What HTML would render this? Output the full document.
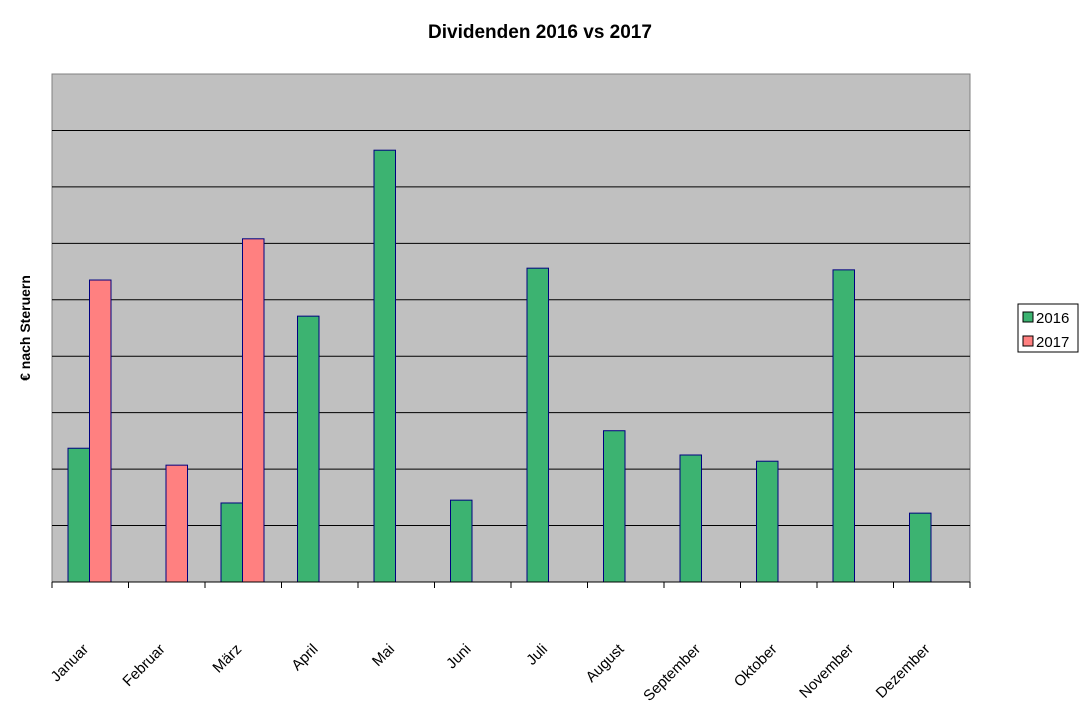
<!DOCTYPE html>
<html><head><meta charset="utf-8"><style>
html,body{margin:0;padding:0;background:#fff;}
svg{display:block;font-family:"Liberation Sans",Arial,sans-serif;}
</style></head><body>
<svg id="chart" width="1083" height="722">
<text x="540" y="38" text-anchor="middle" font-size="19" font-weight="bold">Dividenden 2016 vs 2017</text>
<rect x="52" y="74" width="918" height="508" fill="#c0c0c0" stroke="#808080"/>
<g id="grid"></g>
<g id="bars"></g>
<g id="xaxis"></g>
<text transform="translate(30,328) rotate(-90)" text-anchor="middle" font-size="14" font-weight="bold">€ nach Steruern</text>
<g>
<rect x="1018" y="304" width="60" height="48" fill="#fff" stroke="#000"/>
<rect x="1023" y="312" width="10" height="10" fill="#3cb371" stroke="#000"/>
<text x="1036" y="323" font-size="15">2016</text>
<rect x="1023" y="336" width="10" height="10" fill="#ff8080" stroke="#000"/>
<text x="1036" y="347" font-size="15">2017</text>
</g>
</svg>
<script>
const categories=["Januar","Februar","März","April","Mai","Juni","Juli","August","September","Oktober","November","Dezember"];
const values2016=[2.37,null,1.40,4.71,7.65,1.45,5.56,2.68,2.25,2.14,5.53,1.22];
const values2017=[5.35,2.07,6.08,null,null,null,null,null,null,null,null,null];
const yMax=9;
const ns="http://www.w3.org/2000/svg";
const L=52,R=970,T=74,B=582;
const cw=(R-L)/categories.length;
const y=v=>B-(v/yMax)*(B-T);
const x=i=>L+i*cw;
function mk(tag,attrs,parent){const e=document.createElementNS(ns,tag);for(const k in attrs)e.setAttribute(k,attrs[k]);parent.appendChild(e);return e;}
const grid=document.getElementById('grid'),bars=document.getElementById('bars'),xa=document.getElementById('xaxis');
for(let g=1;g<yMax;g++){
  const l=mk('line',{x1:L,x2:R,y1:y(g),y2:y(g),stroke:'#000','stroke-width':1},grid);
  
  
}
const bw=21.5,off=16;
categories.forEach((c,i)=>{
  if(values2016[i]!=null){
    const r=mk('rect',{x:x(i)+off,y:y(values2016[i]),width:bw,height:B-y(values2016[i]),fill:'#3cb371',stroke:'#000080','stroke-width':1},bars);
    
    
  }
  if(values2017[i]!=null){
    const r=mk('rect',{x:x(i)+off+bw,y:y(values2017[i]),width:bw,height:B-y(values2017[i]),fill:'#ff8080',stroke:'#000080','stroke-width':1},bars);
    
    
  }
  const cx=x(i)+cw/2;
  const t=mk('text',{x:0,y:0,'text-anchor':'end','font-size':15,transform:`translate(${cx-1},${650}) rotate(-45)`},xa);
  t.textContent=c;
  
  
});
mk('line',{x1:L,x2:R,y1:B,y2:B,stroke:'#000'},xa);
for(let i=0;i<=categories.length;i++){
  const tk=mk('line',{x1:x(i),x2:x(i),y1:B,y2:B+6,stroke:'#000'},xa);
  
  
}
</script>
</body></html>
